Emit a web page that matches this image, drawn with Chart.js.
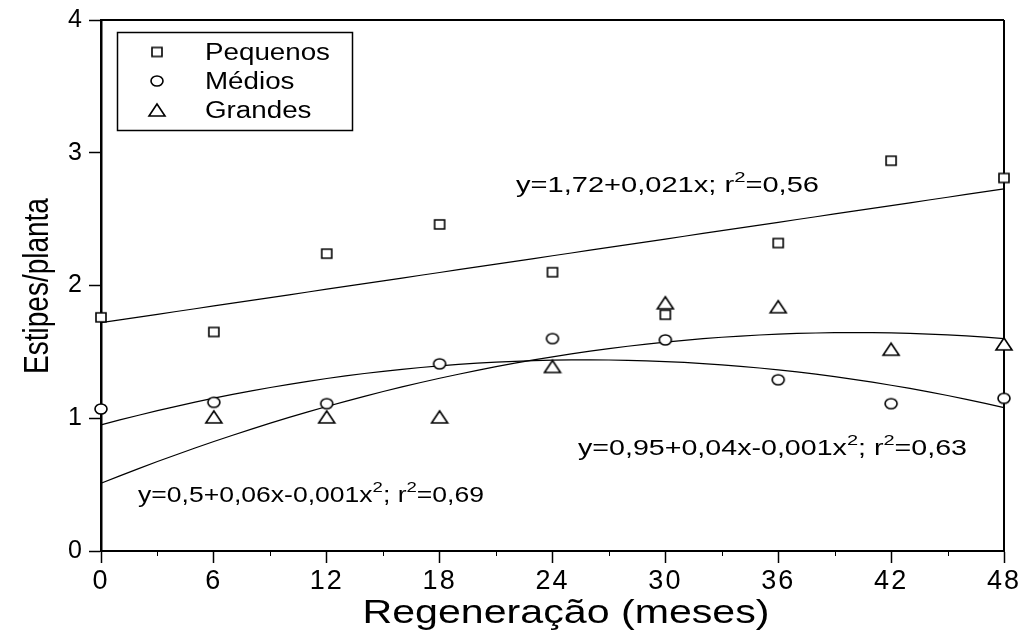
<!DOCTYPE html>
<html><head><meta charset="utf-8">
<script src="https://cdn.jsdelivr.net/npm/chart.js@4/dist/chart.umd.min.js"></script>
<style>html,body{margin:0;padding:0;background:#fff}#wrap{width:1026px;height:636px}</style>
</head><body><div id="wrap"><canvas id="c" width="1026" height="636"></canvas></div>
<script>
// ---- data ----
const months = [0, 6, 12, 18, 24, 30, 36, 42, 48];
const pequenos = [1.76, 1.65, 2.24, 2.46, 2.10, 1.78, 2.32, 2.94, 2.81];
const medios = [1.07, 1.12, 1.11, 1.41, 1.60, 1.59, 1.29, 1.11, 1.15];
const grandesMonths = [6, 12, 18, 24, 30, 36, 42, 48];
const grandes = [1.01, 1.01, 1.01, 1.39, 1.87, 1.84, 1.52, 1.56];
const xTicks = [0, 6, 12, 18, 24, 30, 36, 42, 48];
const xMinorTicks = [3, 9, 15, 21, 27, 33, 39, 45];
const yTicks = [0, 1, 2, 3, 4];
const seriesNames = ['Pequenos', 'Médios', 'Grandes'];
// fitted regression coefficients [a, b, c] for y = a + b x + c x^2
const fitPequenos = [1.72, 0.021, 0];
const fitMedios = [0.95, 0.0379, -0.000733];
const fitGrandes = [0.51, 0.0567, -0.000708];
const eqPequenos = [['y=1,72+0,021x; r'], ['2', true], ['=0,56']];
const eqMedios = [['y=0,95+0,04x-0,001x'], ['2', true], ['; r'], ['2', true], ['=0,63']];
const eqGrandes = [['y=0,5+0,06x-0,001x'], ['2', true], ['; r'], ['2', true], ['=0,69']];
const xTitle = 'Regeneração (meses)';
const yTitle = 'Estipes/planta';

const FONT = "'Liberation Sans', Arial, sans-serif";

function fitCurve(coef) {
  const pts = [];
  for (let m = 0; m <= 48; m += 1) pts.push({x: m, y: coef[0] + coef[1] * m + coef[2] * m * m});
  return pts;
}
function makeMarker(kind, w, h) {
  const pad = 2;
  const c = document.createElement('canvas');
  c.width = w + pad * 2; c.height = h + pad * 2;
  const g = c.getContext('2d');
  g.lineWidth = 1.6; g.strokeStyle = '#000'; g.fillStyle = '#fff';
  g.beginPath();
  if (kind === 'rect') g.rect(pad, pad, w, h);
  else if (kind === 'circle') g.ellipse(pad + w / 2, pad + h / 2, w / 2, h / 2, 0, 0, Math.PI * 2);
  else { g.moveTo(pad + w / 2, pad); g.lineTo(pad + w, pad + h); g.lineTo(pad, pad + h); g.closePath(); }
  g.fill(); g.stroke();
  return c;
}
const mkSquare = makeMarker('rect', 10, 9);
const mkCircle = makeMarker('circle', 12, 10);
const mkTriangle = makeMarker('triangle', 16, 12);
const markers = [mkSquare, mkCircle, mkTriangle];

function partsWidth(ctx, parts, size) {
  let w = 0;
  for (const [t, sup] of parts) { ctx.font = (sup ? size * 0.7 : size) + 'px ' + FONT; w += ctx.measureText(t).width; }
  return w;
}
function drawParts(ctx, parts, x, y, size, sx) {
  ctx.save();
  ctx.textAlign = 'left'; ctx.textBaseline = 'alphabetic'; ctx.fillStyle = '#000';
  ctx.translate(x, y); ctx.scale(sx, 1);
  let cx = 0;
  for (const [t, sup] of parts) {
    ctx.font = (sup ? size * 0.7 : size) + 'px ' + FONT;
    ctx.fillText(t, cx, sup ? -size * 0.45 : 0);
    cx += ctx.measureText(t).width;
  }
  ctx.restore();
}
function drawFit(ctx, parts, x, y, size, targetW) {
  ctx.save(); ctx.letterSpacing = '0px';
  const w = partsWidth(ctx, parts, size);
  drawParts(ctx, parts, x, y, size, targetW / w);
  ctx.restore();
}

const decor = {
  id: 'decor',
  beforeDraw(chart) {
    try { chart.ctx.letterSpacing = '2px'; } catch (e) {}
  },
  beforeDatasetsDraw(chart) {
    const {ctx, chartArea: a, scales} = chart;
    try { ctx.letterSpacing = '0px'; } catch (e) {}
    ctx.save();
    ctx.strokeStyle = '#000';
    ctx.lineWidth = 2;
    ctx.beginPath();
    ctx.moveTo(a.left, a.top); ctx.lineTo(a.right, a.top);
    ctx.moveTo(a.right, a.top); ctx.lineTo(a.right, a.bottom);
    ctx.stroke();
    ctx.lineWidth = 1;
    ctx.beginPath();
    for (const v of xMinorTicks) {
      const px = Math.round(scales.x.getPixelForValue(v)) + 0.5;
      ctx.moveTo(px, a.bottom); ctx.lineTo(px, a.bottom + 5);
    }
    ctx.stroke();
    ctx.restore();
  },
  afterDraw(chart) {
    const {ctx} = chart;
    ctx.save();
    try { ctx.letterSpacing = '0px'; } catch (e) {}
    // legend
    ctx.strokeStyle = '#000'; ctx.lineWidth = 1.5;
    ctx.strokeRect(117.5, 32.5, 235, 98);
    const rowsY = [52, 81, 110];
    const legSize = 23;
    const legSx = 125 / partsWidth(ctx, [[seriesNames[0]]], legSize);
    seriesNames.forEach((n, i) => {
      const m = markers[i];
      ctx.drawImage(m, 157 - m.width / 2, rowsY[i] - m.height / 2);
      drawParts(ctx, [[n]], 205, rowsY[i] + 8, legSize, legSx);
    });
    // equations
    drawFit(ctx, eqPequenos, 516, 192, 22, 303);
    drawFit(ctx, eqMedios, 578, 455, 22, 389);
    drawFit(ctx, eqGrandes, 138, 502, 22, 346);
    // axis titles
    ctx.fillStyle = '#000';
    ctx.font = '33px ' + FONT;
    ctx.textAlign = 'center'; ctx.textBaseline = 'alphabetic';
    const tw = ctx.measureText(xTitle).width;
    ctx.save(); ctx.translate(566, 623); ctx.scale(407 / tw, 1); ctx.fillText(xTitle, 0, 0); ctx.restore();
    ctx.font = '28px ' + FONT;
    ctx.save(); ctx.translate(48, 286); ctx.rotate(-Math.PI / 2); ctx.scale(1, 1.28); ctx.fillText(yTitle, 0, 0); ctx.restore();
    ctx.restore();
  }
};

const pointDs = (label, xs, ys, img) => ({
  label, data: xs.map((m, i) => ({x: m, y: ys[i]})),
  pointStyle: img, pointRadius: 6, pointHoverRadius: 6, showLine: false, clip: false
});
const lineDs = (label, coef) => ({
  label, data: fitCurve(coef), showLine: true, pointRadius: 0, borderColor: '#000',
  borderWidth: 1.2, tension: 0, fill: false, clip: false
});

new Chart(document.getElementById('c').getContext('2d'), {
  type: 'scatter',
  data: {
    datasets: [
      pointDs(seriesNames[0], months, pequenos, mkSquare),
      pointDs(seriesNames[1], months, medios, mkCircle),
      pointDs(seriesNames[2], grandesMonths, grandes, mkTriangle),
      lineDs('fit ' + seriesNames[0], fitPequenos),
      lineDs('fit ' + seriesNames[1], fitMedios),
      lineDs('fit ' + seriesNames[2], fitGrandes)
    ]
  },
  options: {
    responsive: false, animation: false, devicePixelRatio: 1,
    layout: {padding: {top: 18, right: 22, left: 0, bottom: 0}},
    plugins: {legend: {display: false}, tooltip: {enabled: false}},
    scales: {
      x: {
        type: 'linear', min: 0, max: 48,
        afterBuildTicks: s => { s.ticks = xTicks.map(v => ({value: v})); },
        ticks: {font: {family: FONT, size: 27}, color: '#000', padding: 2, maxRotation: 0, autoSkip: false},
        grid: {drawOnChartArea: false, drawTicks: true, tickLength: 12, tickWidth: 1.5, tickColor: '#000'},
        border: {display: true, color: '#000', width: 2},
        afterFit: s => { s.height = 85; }
      },
      y: {
        type: 'linear', min: 0, max: 4,
        afterBuildTicks: s => { s.ticks = yTicks.map(v => ({value: v})); },
        ticks: {font: {family: FONT, size: 25}, color: '#000', padding: 5},
        grid: {drawOnChartArea: false, drawTicks: true, tickLength: 12, tickWidth: 1.5, tickColor: '#000'},
        border: {display: true, color: '#000', width: 2.5},
        afterFit: s => { s.width = 101; }
      }
    }
  },
  plugins: [decor]
});
</script>
</body></html>
